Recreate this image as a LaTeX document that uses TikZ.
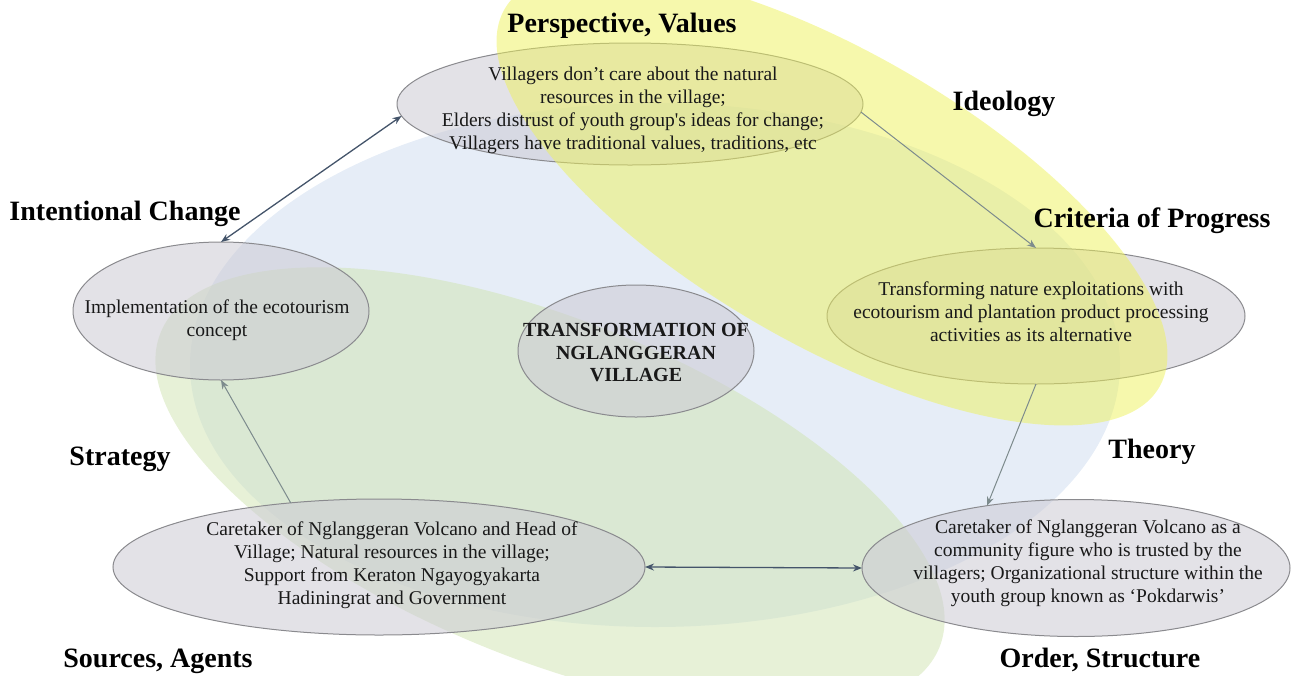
\documentclass[tikz,border=0pt]{standalone}
\usepackage{fontspec}
\setmainfont{Liberation Serif}
\usetikzlibrary{shapes.geometric,arrows.meta}
\definecolor{blobblue}{HTML}{D5E1F1}
\definecolor{blobgreen}{HTML}{CFE3B0}
\definecolor{blobyellow}{HTML}{EEF25A}
\definecolor{ovalgray}{HTML}{CCCAD4}
\definecolor{ovalline}{HTML}{8A8A8E}
\definecolor{darkarrow}{HTML}{44546A}
\definecolor{lightarrow}{HTML}{7D8B8D}
\begin{document}
\begin{tikzpicture}[x=1pt,y=1pt,
  oval/.style={ellipse,draw=ovalline,line width=1pt,fill=ovalgray,fill opacity=0.55,inner sep=0pt,outer sep=0pt},
  txt/.style={align=center,font=\fontsize{19.5}{23}\selectfont,text=black!90},
  tag/.style={font=\fontsize{28}{32}\selectfont\bfseries,text=black,anchor=base},
  dark/.style={darkarrow,line width=1.3pt,{Stealth[length=9pt,width=7pt]}-{Stealth[length=9pt,width=7pt]}},
  light/.style={lightarrow,line width=1pt,-{Stealth[length=9pt,width=7pt]}}]
\useasboundingbox (0,0) rectangle (1293,-675);
% soft areas behind the cycle
\fill[blobblue,opacity=0.6] (655,-365) ellipse [x radius=465,y radius=262];
\fill[blobgreen,opacity=0.5,rotate around={-22:(550,-490)}] (550,-490) ellipse [x radius=420,y radius=170];
% ovals
\node[oval,minimum width=466pt,minimum height=122pt] (pv) at (630,-104) {};
\node[oval,minimum width=296pt,minimum height=138pt] (lt) at (221,-311) {};
\node[oval,minimum width=418pt,minimum height=136pt] (rt) at (1036,-316) {};
\node[oval,minimum width=236pt,minimum height=132pt] (ct) at (636,-351) {};
\node[oval,minimum width=532pt,minimum height=136pt] (bl) at (379,-567) {};
\node[oval,minimum width=428pt,minimum height=137pt] (br) at (1076,-568) {};
\fill[blobyellow,opacity=0.5,rotate around={-30:(832,-198)}] (832,-198) ellipse [x radius=378,y radius=146];
% oval texts
\node[txt] (pvtext) at (633,-110) {Villagers don't care about the natural\\resources in the village;\\Elders distrust of youth group\textquotesingle s ideas for change;\\Villagers have traditional values, traditions, etc};
\node[txt] (lttext) at (217,-320) {Implementation of the ecotourism\\concept};
\node[txt] (rttext) at (1031,-312) {Transforming nature exploitations with\\ecotourism and plantation product processing\\activities as its alternative};
\node[txt,font=\fontsize{20}{22.5}\selectfont\bfseries] (cttext) at (636,-353) {TRANSFORMATION OF\\NGLANGGERAN\\VILLAGE};
\node[txt] (bltext) at (392,-565) {Caretaker of Nglanggeran Volcano and Head of\\Village; Natural resources in the village;\\Support from Keraton Ngayogyakarta\\Hadiningrat and Government};
\node[txt] (brtext) at (1088,-563) {Caretaker of Nglanggeran Volcano as a\\community figure who is trusted by the\\villagers; Organizational structure within the\\youth group known as `Pokdarwis'};
% labels
\node[tag] (pvtag) at (622,-32) {Perspective, Values};
\node[tag] (idtag) at (1004,-110) {Ideology};
\node[tag] (ictag) at (125,-220) {Intentional Change};
\node[tag] (cptag) at (1152,-227) {Criteria of Progress};
\node[tag] (sttag) at (120,-465) {Strategy};
\node[tag] (thtag) at (1152,-458) {Theory};
\node[tag] (satag) at (158,-667) {Sources, Agents};
\node[tag] (ostag) at (1100,-667) {Order, Structure};
% arrows
\draw[dark] (pv.183) -- (lt.north);
\draw[light] (pv.-2) -- (rt.north);
\draw[light] (rt.south) -- (br.145);
\draw[light] (bl.144) -- (lt.south);
\draw[dark] (bl.east) -- (br.west);
\end{tikzpicture}
\end{document}
